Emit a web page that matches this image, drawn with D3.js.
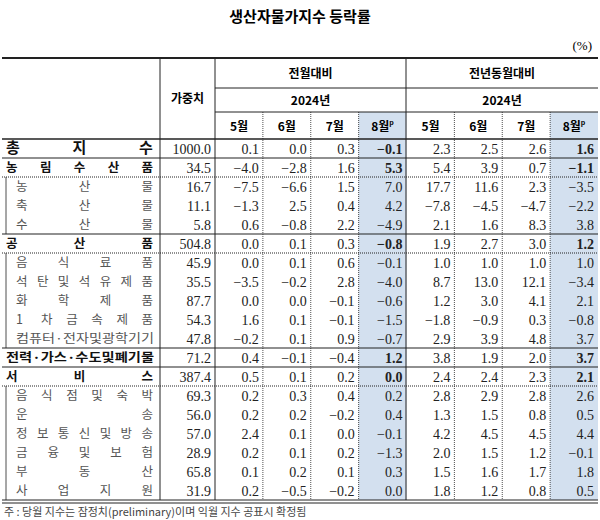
<!DOCTYPE html>
<html><head><meta charset="utf-8">
<script src="https://cdn.jsdelivr.net/npm/d3@7"></script>
<style>body{margin:0;background:#fff}</style>
</head><body><div id="graf"></div>
<script>
const anchoTotal = 600
const altoTotal = 520

// datos
const categorias = ['총지수', '농림수산품', '농산물', '축산물', '수산물', '공산품', '음식료품', '석탄및석유제품',
  '화학제품', '1차금속제품', '컴퓨터·전자및광학기기', '전력·가스·수도및폐기물', '서비스', '음식점및숙박', '운송',
  '정보통신및방송', '금융및보험', '부동산', '사업지원']
const nivel = [0, 0, 1, 1, 1, 0, 1, 1, 1, 1, 1, 0, 0, 1, 1, 1, 1, 1, 1]
const pesos = ['1000.0', '34.5', '16.7', '11.1', '5.8', '504.8', '45.9', '35.5', '87.7', '54.3', '47.8', '71.2', '387.4', '69.3', '56.0', '57.0', '28.9', '65.8', '31.9']
const meses = ['5월', '6월', '7월', '8월']
const mom = [
  [0.1, 0.0, 0.3, -0.1], [-4.0, -2.8, 1.6, 5.3], [-7.5, -6.6, 1.5, 7.0], [-1.3, 2.5, 0.4, 4.2],
  [0.6, -0.8, 2.2, -4.9], [0.0, 0.1, 0.3, -0.8], [0.0, 0.1, 0.6, -0.1], [-3.5, -0.2, 2.8, -4.0],
  [0.0, 0.0, -0.1, -0.6], [1.6, 0.1, -0.1, -1.5], [-0.2, 0.1, 0.9, -0.7], [0.4, -0.1, -0.4, 1.2],
  [0.5, 0.1, 0.2, 0.0], [0.2, 0.3, 0.4, 0.2], [0.2, 0.2, -0.2, 0.4], [2.4, 0.1, 0.0, -0.1],
  [0.2, 0.1, 0.2, -1.3], [0.1, 0.2, 0.1, 0.3], [0.2, -0.5, -0.2, 0.0]]
const yoy = [
  [2.3, 2.5, 2.6, 1.6], [5.4, 3.9, 0.7, -1.1], [17.7, 11.6, 2.3, -3.5], [-7.8, -4.5, -4.7, -2.2],
  [2.1, 1.6, 8.3, 3.8], [1.9, 2.7, 3.0, 1.2], [1.0, 1.0, 1.0, 1.0], [8.7, 13.0, 12.1, -3.4],
  [1.2, 3.0, 4.1, 2.1], [-1.8, -0.9, 0.3, -0.8], [2.9, 3.9, 4.8, 3.7], [3.8, 1.9, 2.0, 3.7],
  [2.4, 2.4, 2.3, 2.1], [2.8, 2.9, 2.8, 2.6], [1.3, 1.5, 0.8, 0.5], [4.2, 4.5, 4.5, 4.4],
  [2.0, 1.5, 1.2, -0.1], [1.5, 1.6, 1.7, 1.8], [1.8, 1.2, 0.8, 0.5]]

const kr = '"Noto Sans CJK KR", sans-serif'
const num = '"Liberation Serif", serif'

const svg = d3.select('#graf').append('svg')
  .attr('width', anchoTotal).attr('height', altoTotal)

svg.append('text').attr('x', 300).attr('y', 22).attr('text-anchor', 'middle')
  .attr('font-family', kr).attr('font-weight', 'bold').attr('font-size', 15).text('생산자물가지수 등락률')
svg.append('text').attr('x', 592).attr('y', 50).attr('text-anchor', 'end')
  .attr('font-family', num).attr('font-size', 13).text('(%)')

// columnas de datos
const cols = meses.map(m => 'a' + m).concat(meses.map(m => 'b' + m))
const xd = d3.scaleBand().domain(cols).range([215, 598])

const yTop = 58, h1 = 88, h2 = 112, h3 = 139, yBottom = 500
const y = d3.scaleBand().domain(d3.range(categorias.length)).range([h3, yBottom])

// resaltado 8월
;['a8월', 'b8월'].forEach(c => {
  svg.append('rect').attr('x', xd(c)).attr('y', h2).attr('width', xd.bandwidth())
    .attr('height', yBottom - h2).attr('fill', '#d3e0ef')
})

const line = (x1, y1, x2, y2, w, dash) => svg.append('line')
  .attr('x1', x1).attr('y1', y1).attr('x2', x2).attr('y2', y2)
  .attr('stroke', '#222').attr('stroke-width', w || 1).attr('stroke-dasharray', dash || null)

// horizontales
line(2, yTop, 598, yTop, 2)
line(215, h1, 598, h1)
line(215, h2, 598, h2)
line(2, h3, 598, h3, 1.5)
categorias.forEach((c, i) => {
  if (i === 0) return
  const yy = y(i)
  if (nivel[i] === 0) line(2, yy, 598, yy, 1.2)
  else if (nivel[i - 1] !== 1) line(2, yy, 598, yy, 1, '1,1')
})
line(2, yBottom, 598, yBottom, 1)
line(2, yBottom + 3, 598, yBottom + 3, 1)

// verticales
line(160, yTop, 160, yBottom, 1)
line(215, yTop, 215, yBottom, 1)
line(406, yTop, 406, yBottom, 1)
;['a6월', 'a7월', 'a8월', 'b6월', 'b7월', 'b8월'].forEach(c => line(xd(c), h2, xd(c), yBottom, 0.8, '1,1'))

// caja de subcategorias
categorias.forEach((c, i) => {
  if (nivel[i] === 1) line(6, y(i), 6, y(i) + y.bandwidth(), 0.8)
})

// encabezados
const th = (tx, cx, cy, sz) => svg.append('text').attr('x', cx).attr('y', cy).attr('text-anchor', 'middle')
  .attr('font-family', kr).attr('font-weight', 'bold').attr('font-size', sz || 12).text(tx)
th('가중치', 187.5, 103)
th('전월대비', 310.5, 78)
th('전년동월대비', 502, 78)
th('2024년', 310.5, 105)
th('2024년', 502, 105)
cols.forEach(c => {
  const t = th(c.slice(1), xd(c) + xd.bandwidth() / 2, 131)
  if (c.endsWith('8월')) t.append('tspan').attr('dy', -6).attr('font-size', 7).text('p')
})

// etiquetas con espaciado repartido
categorias.forEach((c, i) => {
  const chars = Array.from(c)
  const main = nivel[i] === 0
  const x0 = main ? 6 : 16, x1 = 154
  const cy = y(i) + y.bandwidth() / 2 + 4.5
  const sz = i === 0 ? 15 : 12.5
  const g = svg.append('text').attr('y', cy).attr('font-family', kr).attr('font-size', chars.length > 9 ? 12 : sz)
    .attr('font-weight', main ? 'bold' : 'normal').attr('fill', main ? '#111' : '#555')
  if (chars.length > 9) {
    g.attr('x', x0).attr('textLength', x1 - x0).attr('lengthAdjust', 'spacingAndGlyphs').text(c)
  } else {
    const step = (x1 - x0 - sz) / (chars.length - 1)
    chars.forEach((ch, k) => g.append('tspan').attr('x', x0 + k * step).text(ch))
  }
})

// valores
const fmt = d3.format('.1f')
categorias.forEach((c, i) => {
  const cy = y(i) + y.bandwidth() / 2 + 5
  svg.append('text').attr('x', 211).attr('y', cy).attr('text-anchor', 'end')
    .attr('font-family', num).attr('font-size', 14).attr('fill', '#222').text(pesos[i])
  const vals = mom[i].map((v, k) => ['a' + meses[k], v]).concat(yoy[i].map((v, k) => ['b' + meses[k], v]))
  vals.forEach(([col, v]) => {
    const bold = col.endsWith('8월') && nivel[i] === 0
    svg.append('text').attr('x', xd(col) + xd.bandwidth() - 4).attr('y', cy).attr('text-anchor', 'end')
      .attr('font-family', num).attr('font-size', 14).attr('font-weight', bold ? 'bold' : 'normal')
      .attr('fill', '#222').text(fmt(v).replace('-0.0', '0.0'))
  })
})

svg.append('text').attr('x', 4).attr('y', 516).attr('font-family', kr).attr('font-size', 11).attr('fill', '#444')
  .text('주 : 당월 지수는 잠정치(preliminary)이며 익월 지수 공표시 확정됨')
</script></body></html>
